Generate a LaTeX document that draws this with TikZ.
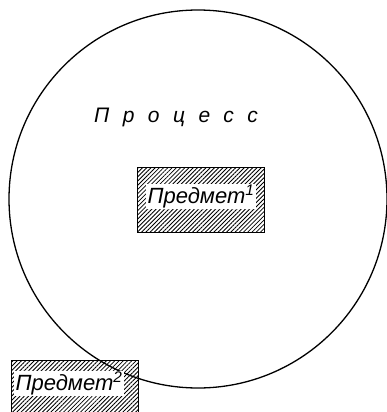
\documentclass[tikz,border=0pt]{standalone}
\usepackage{fontspec}
\setmainfont{Liberation Sans}
\newfontfamily\spacedfont[LetterSpace=64]{Liberation Sans}
\usetikzlibrary{patterns.meta}
\tikzset{
itembox/.style={
  draw,
  line width=1.5pt,
  pattern={Lines[angle=45,distance=3pt,line width=0.85pt]},
  minimum width=127pt,
  minimum height=65pt,
  inner sep=0pt
  },
itemtext/.style={
  fill=white,
  inner sep=1.2pt,
  anchor=base,
  font=\itshape\fontsize{22}{22}\selectfont
  }
}

\begin{document}
\begin{tikzpicture}[x=1pt,y=-1pt]

\useasboundingbox (0,0) rectangle (387,412);
\clip (0,0) rectangle (387,412);

\node[draw,circle,line width=1.3pt,minimum size=378pt,inner sep=0pt]
  at (198,199) (proc) {};

\node[anchor=base west,font=\spacedfont\itshape\fontsize{21}{21}\selectfont,inner sep=0pt]
  at (94,122) (title) {Процесс};

\node[itembox] at (201,200) (item1) {};
\node[itemtext] at (201,203) (label1) {Предмет\textsuperscript{1}};

\node[itembox] at (75,393) (item2) {};
\node[itemtext] at (69,390) (label2) {Предмет\textsuperscript{2}};

\end{tikzpicture}
\end{document}
